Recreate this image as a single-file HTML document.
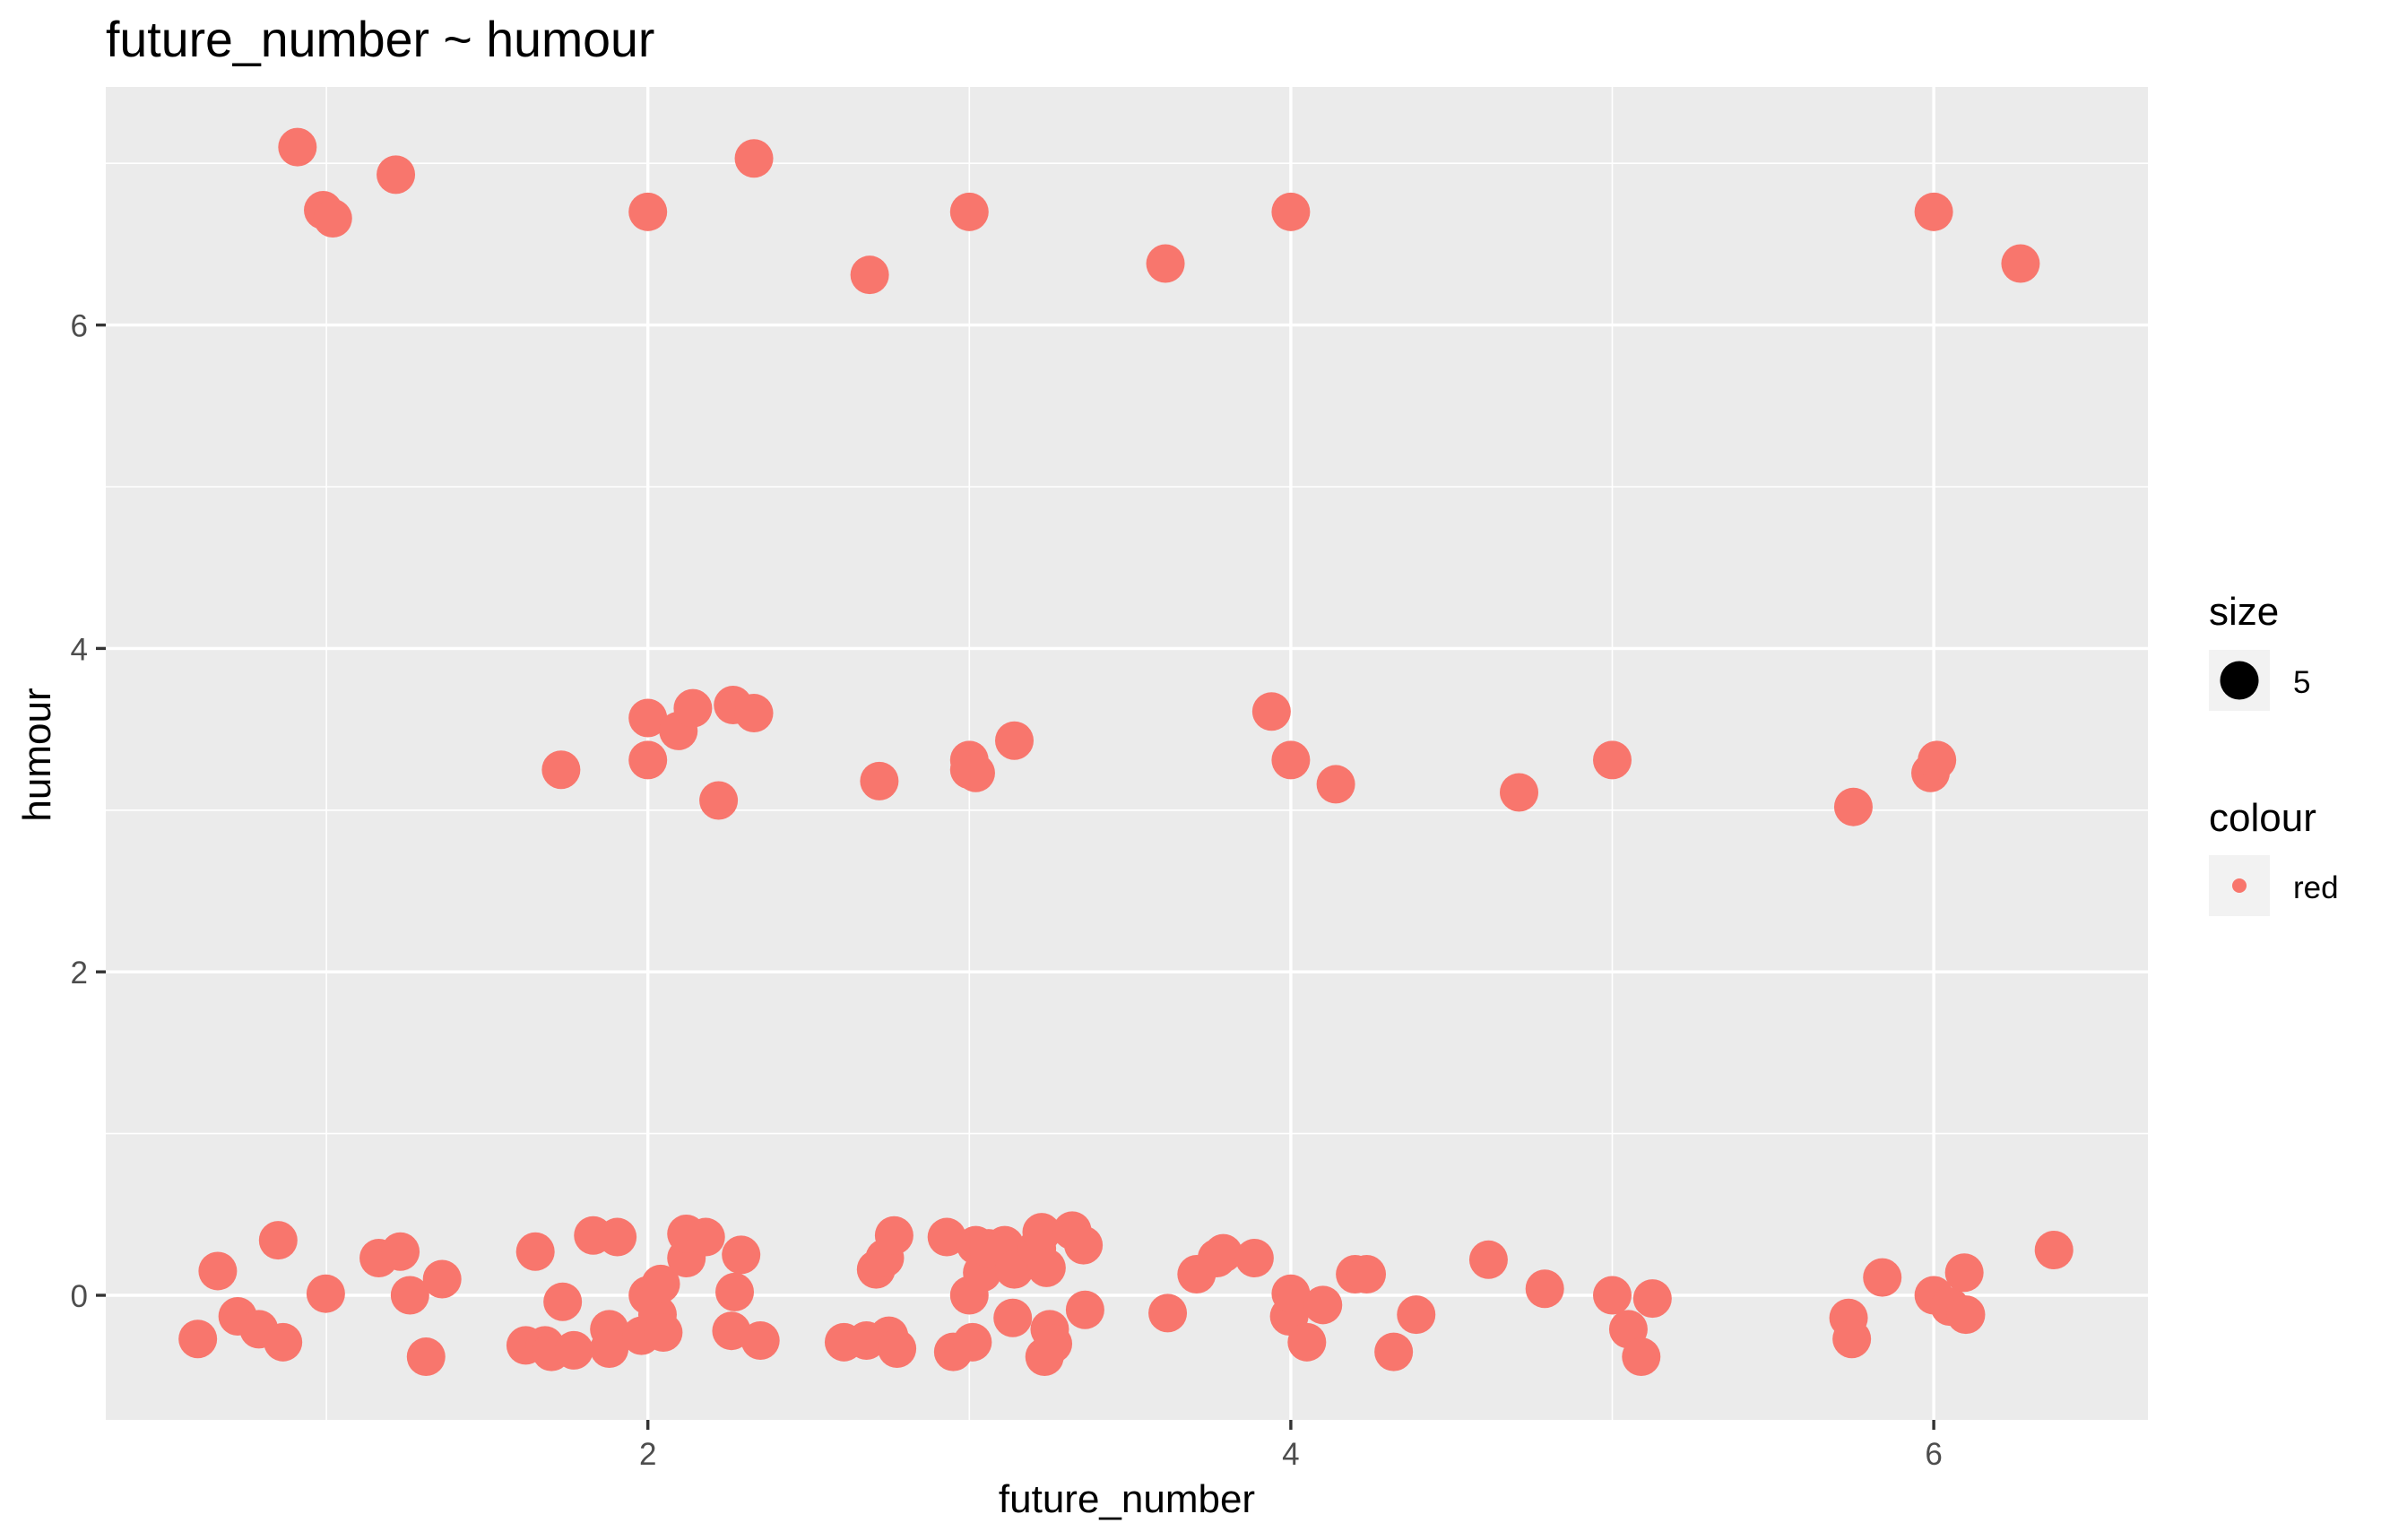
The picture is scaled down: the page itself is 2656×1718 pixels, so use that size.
<!DOCTYPE html>
<html><head><meta charset="utf-8"><style>
html,body{margin:0;padding:0;background:#fff;}
svg{display:block;font-family:"Liberation Sans",Arial,sans-serif;}
</style></head><body>
<svg id="chart" width="2656" height="1718" viewBox="0 0 2656 1718" xmlns="http://www.w3.org/2000/svg">
<rect x="0" y="0" width="2656" height="1718" fill="#fff"/>
<text x="118" y="63" font-size="55.5" fill="#000">future_number ~ humour</text>
<rect x="118" y="97" width="2278" height="1487" fill="#EBEBEB"/>
<g id="grid"></g>
<g id="points"></g>
<g id="axes"></g>
<text x="1257" y="1687" font-size="44" text-anchor="middle" fill="#000">future_number</text>
<text transform="translate(56,842) rotate(-90)" font-size="44" text-anchor="middle" fill="#000">humour</text>
<g>
<text x="2464" y="697" font-size="44" fill="#000">size</text>
<rect x="2464" y="725" width="68" height="68" fill="#F2F2F2"/>
<circle cx="2498" cy="759" r="21.5" fill="#000"/>
<text x="2558" y="773" font-size="35" fill="#000">5</text>
<text x="2464" y="927" font-size="44" fill="#000">colour</text>
<rect x="2464" y="954" width="68" height="68" fill="#F2F2F2"/>
<circle cx="2498" cy="988" r="8" fill="#F8766D"/>
<text x="2558" y="1002" font-size="35" fill="#000">red</text>
</g>
</svg>
<script>
const xs = [0.91,0.99,1.02,1.216,2.0,2.33,2.69,3.0,3.61,4.0,6.0,6.27,
1.73,2.0,2.0,2.095,2.14,2.22,2.265,2.33,2.72,3.0,3.0,3.02,3.14,3.94,4.0,4.14,4.71,5.0,5.75,5.99,6.01,
0.60,0.662,0.724,0.79,0.85,0.865,0.998,1.163,1.23,1.26,1.31,1.36,1.62,1.65,1.68,1.70,1.735,1.77,1.83,1.88,1.88,1.905,1.98,2.0,2.03,2.04,2.048,2.12,2.12,2.18,2.26,2.27,2.29,2.35,
2.61,2.68,2.71,2.737,2.75,2.766,2.775,2.93,2.95,3.0,3.01,3.02,3.04,3.06,3.11,3.135,3.14,3.21,3.225,3.234,3.24,3.25,3.26,3.32,3.355,3.36,
3.617,3.707,3.77,3.79,3.887,3.995,4.0,4.05,4.10,4.20,4.236,4.32,4.39,4.615,4.79,5.0,5.05,5.09,5.125,5.735,5.745,5.84,6.0,6.05,6.095,6.10,6.374];
const ys = [7.10,6.71,6.66,6.93,6.70,7.03,6.31,6.70,6.38,6.70,6.70,6.38,
3.25,3.57,3.31,3.49,3.63,3.06,3.65,3.60,3.18,3.31,3.25,3.23,3.43,3.61,3.31,3.16,3.11,3.31,3.02,3.23,3.31,
-0.27,0.15,-0.13,-0.21,0.34,-0.29,0.01,0.23,0.27,0.0,-0.38,0.10,-0.31,0.27,-0.31,-0.35,-0.04,-0.34,0.37,-0.21,-0.33,0.36,-0.25,0.0,-0.12,0.07,-0.23,0.23,0.38,0.36,-0.22,0.02,0.25,-0.28,
-0.29,-0.28,0.16,0.23,-0.25,0.37,-0.33,0.36,-0.35,0.0,-0.29,0.31,0.14,0.29,0.31,-0.14,0.16,0.29,0.39,-0.38,0.17,-0.21,-0.30,0.40,0.31,-0.09,
-0.11,0.13,0.23,0.26,0.23,-0.13,0.01,-0.29,-0.06,0.13,0.13,-0.35,-0.12,0.22,0.04,0.0,-0.21,-0.38,-0.02,-0.14,-0.27,0.11,0.0,-0.07,0.14,-0.12,0.28];
const xTicks = [2,4,6];
const yTicks = [0,2,4,6];
const xMinor = [1,3,5];
const yMinor = [1,3,5,7];
const NS='http://www.w3.org/2000/svg';
const X0=118,X1=2396,Y0=97,Y1=1584;
function sx(v){return 5.5+v*358.6;}
function sy(v){return 1445-v*180.4;}
function mk(tag,attrs,parent){const e=document.createElementNS(NS,tag);for(const k in attrs)e.setAttribute(k,attrs[k]);parent.appendChild(e);return e;}
const grid=document.getElementById('grid'),pts=document.getElementById('points'),axes=document.getElementById('axes');
xMinor.forEach(v=>{const l=mk('line',{x1:sx(v),x2:sx(v),y1:Y0,y2:Y1,stroke:'#fff','stroke-width':1.6},grid);

});
yMinor.forEach(v=>{if(sy(v)<Y0)return;const l=mk('line',{x1:X0,x2:X1,y1:sy(v),y2:sy(v),stroke:'#fff','stroke-width':1.6},grid);

});
xTicks.forEach(v=>{const l=mk('line',{x1:sx(v),x2:sx(v),y1:Y0,y2:Y1,stroke:'#fff','stroke-width':3.4},grid);


const t=mk('line',{x1:sx(v),x2:sx(v),y1:Y1,y2:Y1+11,stroke:'#333','stroke-width':3.4},axes);


const tx=mk('text',{x:sx(v),y:1634,'font-size':35,'text-anchor':'middle',fill:'#4D4D4D'},axes);tx.textContent=v;

});
yTicks.forEach(v=>{const l=mk('line',{x1:X0,x2:X1,y1:sy(v),y2:sy(v),stroke:'#fff','stroke-width':3.4},grid);


const t=mk('line',{x1:X0-11,x2:X0,y1:sy(v),y2:sy(v),stroke:'#333','stroke-width':3.4},axes);


const tx=mk('text',{x:98,y:sy(v)+13,'font-size':35,'text-anchor':'end',fill:'#4D4D4D'},axes);tx.textContent=v;

});
xs.forEach((v,i)=>{const c=mk('circle',{cx:sx(v),cy:sy(ys[i]),r:21.5,fill:'#F8766D'},pts);

});
</script>
</body></html>
